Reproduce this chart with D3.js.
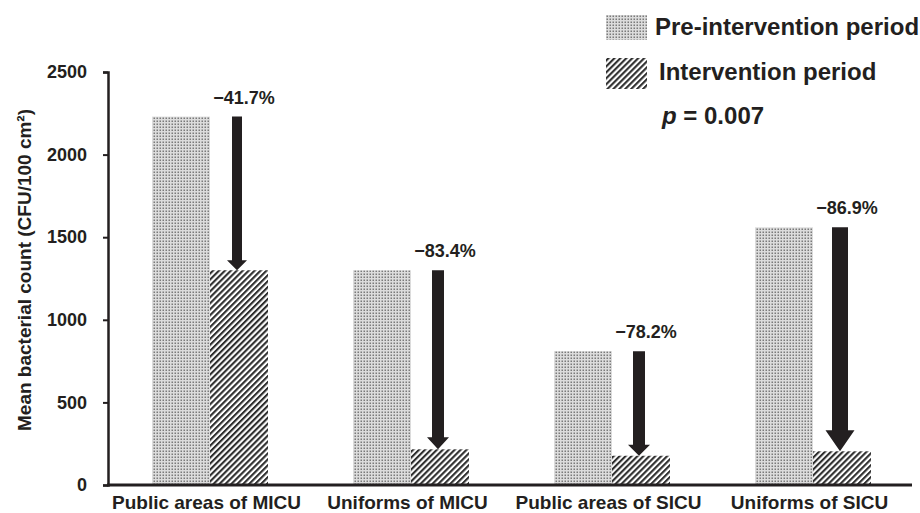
<!DOCTYPE html>
<html>
<head>
<meta charset="utf-8">
<script src="https://cdn.jsdelivr.net/npm/d3@7/dist/d3.min.js"></script>
<style>
  html, body { margin: 0; padding: 0; background: #fff; }
  svg { display: block; font-family: "Liberation Sans", Arial, sans-serif; font-weight: bold; }
</style>
</head>
<body>
<svg id="chart" width="920" height="513"></svg>
<script>
// Mean bacterial counts (CFU/100 cm²) by site and period
const categories = ["Public areas of MICU", "Uniforms of MICU", "Public areas of SICU", "Uniforms of SICU"];
const preValues = [2230, 1300, 810, 1560];
const interventionValues = [1300, 216, 177, 204];
const changeLabels = ["\u221241.7%", "\u221283.4%", "\u221278.2%", "\u221286.9%"];
const yTicks = [0, 500, 1000, 1500, 2000, 2500];
const seriesNames = ["Pre-intervention period", "Intervention period"];
const pValueText = "0.007";

const svg = d3.select("#chart");
const defs = svg.append("defs");

// Dotted grey fill for the pre-intervention bars
const dots = defs.append("pattern").attr("id", "dots")
  .attr("patternUnits", "userSpaceOnUse").attr("width", 3).attr("height", 3);
dots.append("rect").attr("width", 3).attr("height", 3).attr("fill", "#dcdcdc");
dots.append("rect").attr("x", 0.5).attr("y", 0.5).attr("width", 1.5).attr("height", 1.5).attr("fill", "#7a7a7a");

// Diagonal hatch fill for the intervention bars
const hatch = defs.append("pattern").attr("id", "hatch")
  .attr("patternUnits", "userSpaceOnUse").attr("width", 4.2).attr("height", 4.2)
  .attr("patternTransform", "rotate(45)");
hatch.append("rect").attr("width", 4.2).attr("height", 4.2).attr("fill", "#ffffff");
hatch.append("rect").attr("x", 0).attr("y", 0).attr("width", 2.1).attr("height", 4.2).attr("fill", "#2e2e2e");

const x = d3.scaleBand().domain(categories).range([108, 912]).padding(0);
const sub = d3.scaleBand().domain(["pre", "int"]).range([44, 160]).padding(0);
const y = d3.scaleLinear().domain([0, 2500]).range([485, 72]);

// Bars
const groups = svg.append("g").selectAll("g").data(categories).join("g")
  .attr("transform", d => `translate(${x(d)},0)`);

groups.append("rect")
  .attr("x", sub("pre")).attr("width", sub.bandwidth())
  .attr("y", (d, i) => y(preValues[i]))
  .attr("height", (d, i) => y(0) - y(preValues[i]))
  .attr("fill", "url(#dots)");

groups.append("rect")
  .attr("x", sub("int")).attr("width", sub.bandwidth())
  .attr("y", (d, i) => y(interventionValues[i]))
  .attr("height", (d, i) => y(0) - y(interventionValues[i]))
  .attr("fill", "url(#hatch)");

// Reduction arrows: from pre-intervention level down to intervention level
const shaftW = [10, 12, 12, 16];
const headW = [20, 22, 22, 29];
const headH = [10, 12, 11, 21];
const arrowX = sub("int") + sub.bandwidth() / 2 - 2;
groups.append("path")
  .attr("fill", "#231f20")
  .attr("d", (d, i) => {
    const cx = arrowX;
    const top = y(preValues[i]);
    const tip = y(interventionValues[i]);
    const s = shaftW[i] / 2, h = headW[i] / 2, hh = headH[i];
    return `M${cx - s},${top}H${cx + s}V${tip - hh}H${cx + h}L${cx},${tip}L${cx - h},${tip - hh}H${cx - s}Z`;
  });

groups.append("text")
  .attr("x", arrowX + 7)
  .attr("y", (d, i) => y(preValues[i]) - 13)
  .attr("text-anchor", "middle")
  .attr("font-size", 18)
  .attr("fill", "#231f20")
  .text((d, i) => changeLabels[i]);

// Y axis
const yAxis = svg.append("g").attr("transform", "translate(108,0)")
  .call(d3.axisLeft(y).tickValues(yTicks).tickSize(5).tickPadding(16).tickFormat(d3.format("d")));
yAxis.select(".domain").attr("stroke", "#231f20").attr("stroke-width", 2.5);
yAxis.selectAll(".tick line").attr("stroke", "#231f20").attr("stroke-width", 2);
yAxis.selectAll(".tick text").attr("font-size", 18).attr("font-weight", "bold")
  .attr("font-family", "Liberation Sans, Arial, sans-serif").attr("fill", "#231f20");

// X axis line and category labels
svg.append("line").attr("x1", 107).attr("x2", 912).attr("y1", y(0)).attr("y2", y(0))
  .attr("stroke", "#231f20").attr("stroke-width", 3);
svg.append("g").selectAll("text").data(categories).join("text")
  .attr("x", d => x(d) + x.bandwidth() / 2 - 2)
  .attr("y", 509)
  .attr("text-anchor", "middle")
  .attr("font-size", 19)
  .attr("fill", "#231f20")
  .text(d => d);

// Y axis title
svg.append("text")
  .attr("transform", "translate(31,270) rotate(-90)")
  .attr("text-anchor", "middle")
  .attr("font-size", 19)
  .attr("fill", "#231f20")
  .text("Mean bacterial count (CFU/100 cm\u00B2)");

// Legend
const legend = svg.append("g");
legend.append("rect").attr("x", 606).attr("y", 15).attr("width", 41).attr("height", 25).attr("fill", "url(#dots)");
legend.append("text").attr("x", 655).attr("y", 35).attr("font-size", 24).attr("fill", "#231f20").text(seriesNames[0]);
legend.append("rect").attr("x", 606).attr("y", 58).attr("width", 41).attr("height", 31).attr("fill", "url(#hatch)");
legend.append("text").attr("x", 659).attr("y", 80).attr("font-size", 24).attr("fill", "#231f20").text(seriesNames[1]);
const pText = legend.append("text").attr("x", 662).attr("y", 124).attr("font-size", 24).attr("fill", "#231f20");
pText.append("tspan").attr("font-style", "italic").text("p");
pText.append("tspan").text(" = " + pValueText);
</script>
</body>
</html>
